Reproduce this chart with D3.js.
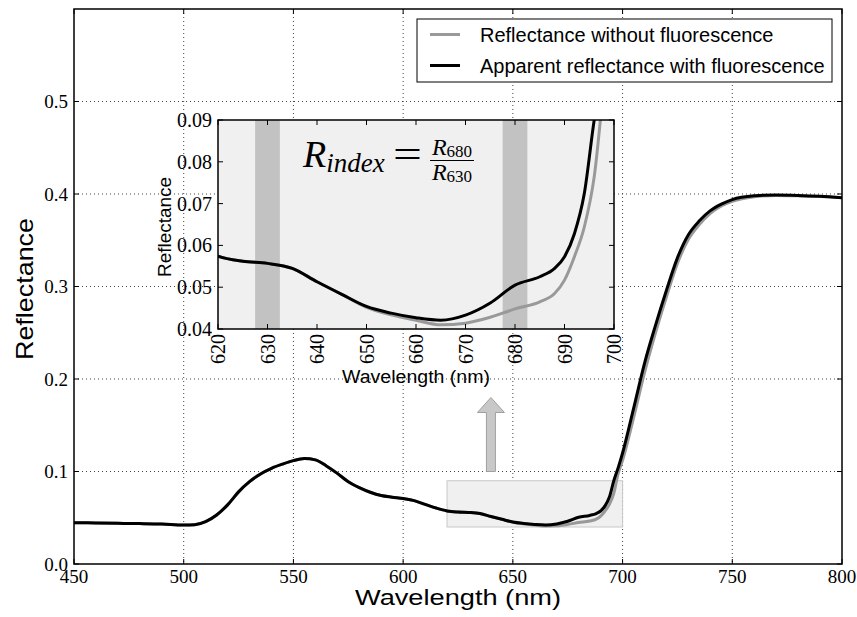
<!DOCTYPE html>
<html>
<head>
<meta charset="utf-8">
<script src="https://cdn.jsdelivr.net/npm/d3@7"></script>
<style>
  body { margin: 0; background: #fff; }
  .serif { font-family: "Liberation Serif", "DejaVu Serif", serif; }
  .sans { font-family: "Liberation Sans", Arial, sans-serif; }
</style>
</head>
<body>
<div class="chart"></div>
<script>
// data
const wavelength = [450, 460, 470, 480, 490, 500, 505, 510, 515, 520, 525, 530, 535, 540, 545, 550, 555, 560, 565, 570,
  575, 580, 585, 590, 595, 600, 605, 610, 615, 620, 625, 630, 635, 640, 645, 650, 655, 660, 665, 670,
  675, 680, 685, 688, 690, 692, 694, 696, 698, 700, 705, 710, 715, 720, 725, 730, 735, 740, 745, 750,
  760, 770, 780, 790, 800];
const withFluor = [0.0447, 0.0444, 0.0440, 0.0437, 0.0432, 0.0421, 0.0425, 0.0458, 0.0530, 0.0639, 0.0780, 0.0890, 0.0974, 0.1035, 0.1080, 0.1118, 0.1140, 0.1126, 0.1060, 0.0980,
  0.0890, 0.0826, 0.0776, 0.0740, 0.0722, 0.0707, 0.0685, 0.0645, 0.0605, 0.0574, 0.0562, 0.0557, 0.0545, 0.0513, 0.0483, 0.0454, 0.0438, 0.0427, 0.0421, 0.0433,
  0.0462, 0.0505, 0.0525, 0.0545, 0.0573, 0.0628, 0.0724, 0.0900, 0.1040, 0.1200, 0.1680, 0.2170, 0.2580, 0.2960, 0.3310, 0.3560, 0.3710, 0.3820, 0.3890, 0.3940,
  0.3980, 0.3990, 0.3985, 0.3975, 0.3960];
const withoutFluor = [0.0447, 0.0444, 0.0440, 0.0437, 0.0432, 0.0421, 0.0425, 0.0458, 0.0530, 0.0639, 0.0780, 0.0890, 0.0974, 0.1035, 0.1080, 0.1118, 0.1140, 0.1126, 0.1060, 0.0980,
  0.0890, 0.0826, 0.0776, 0.0740, 0.0722, 0.0707, 0.0685, 0.0645, 0.0605, 0.0574, 0.0562, 0.0557, 0.0545, 0.0513, 0.0483, 0.0452, 0.0434, 0.0421, 0.0410, 0.0414,
  0.0428, 0.0448, 0.0465, 0.0485, 0.0517, 0.0573, 0.0644, 0.0764, 0.0980, 0.1120, 0.1580, 0.2070, 0.2500, 0.2890, 0.3250, 0.3510, 0.3670, 0.3790, 0.3870, 0.3920,
  0.3970, 0.3985, 0.3980, 0.3972, 0.3960];

const mainXTicks = [450, 500, 550, 600, 650, 700, 750, 800];
const mainYTicks = [0.0, 0.1, 0.2, 0.3, 0.4, 0.5];
const insetXTicks = [620, 630, 640, 650, 660, 670, 680, 690, 700];
const insetYTicks = [0.04, 0.05, 0.06, 0.07, 0.08, 0.09];
const bands = [[627.5, 632.5], [677.5, 682.5]];
const zoomX = [620, 700];
const zoomY = [0.04, 0.09];
const arrowX = 640;
const arrowY = [0.10, 0.18];
const legendLabels = ["Reflectance without fluorescence", "Apparent reflectance with fluorescence"];

const width = 857, height = 617;
const mL = 74, mT = 9, mR = 842, mB = 564;

const svg = d3.select(".chart").append("svg")
    .attr("width", width)
    .attr("height", height);

const x = d3.scaleLinear().domain([450, 800]).range([mL, mR]);
const y = d3.scaleLinear().domain([0, 0.6]).range([mB, mT]);

const pts = wavelength.map((w, i) => ({w: w, a: withoutFluor[i], b: withFluor[i]}));

// grid
svg.append("g").selectAll("line").data(mainXTicks.slice(1, -1)).join("line")
    .attr("x1", d => x(d)).attr("x2", d => x(d))
    .attr("y1", mT).attr("y2", mB)
    .attr("stroke", "#444").attr("stroke-width", 1).attr("stroke-dasharray", "1,3");
svg.append("g").selectAll("line").data(mainYTicks.slice(1)).join("line")
    .attr("x1", mL).attr("x2", mR)
    .attr("y1", d => y(d)).attr("y2", d => y(d))
    .attr("stroke", "#444").attr("stroke-width", 1).attr("stroke-dasharray", "1,3");

// zoom box
svg.append("rect")
    .attr("x", x(zoomX[0])).attr("y", y(zoomY[1]))
    .attr("width", x(zoomX[1]) - x(zoomX[0]))
    .attr("height", y(zoomY[0]) - y(zoomY[1]))
    .attr("fill", "#f0f0f0").attr("stroke", "#c8c8c8").attr("stroke-width", 1);

// arrow
const ax = x(arrowX), ay0 = y(arrowY[0]), ay1 = y(arrowY[1]);
svg.append("path")
    .attr("d", `M${ax - 4.5},${ay0} L${ax - 4.5},${ay1 + 15} L${ax - 13.5},${ay1 + 15} L${ax},${ay1} L${ax + 13.5},${ay1 + 15} L${ax + 4.5},${ay1 + 15} L${ax + 4.5},${ay0} Z`)
    .attr("fill", "#c8c8c8").attr("stroke", "#a0a0a0").attr("stroke-width", 1);

// lines
svg.append("defs").append("clipPath").attr("id", "mainclip")
    .append("rect").attr("x", mL).attr("y", mT).attr("width", mR - mL).attr("height", mB - mT);

const lineA = d3.line().x(d => x(d.w)).y(d => y(d.a)).curve(d3.curveMonotoneX);
const lineB = d3.line().x(d => x(d.w)).y(d => y(d.b)).curve(d3.curveMonotoneX);
svg.append("path").datum(pts).attr("d", lineA)
    .attr("fill", "none").attr("stroke", "#999").attr("stroke-width", 3).attr("clip-path", "url(#mainclip)");
svg.append("path").datum(pts).attr("d", lineB)
    .attr("fill", "none").attr("stroke", "#000").attr("stroke-width", 3).attr("clip-path", "url(#mainclip)");

// frame and inward ticks
svg.append("rect").attr("x", mL).attr("y", mT).attr("width", mR - mL).attr("height", mB - mT)
    .attr("fill", "none").attr("stroke", "#000").attr("stroke-width", 1.5);
const tk = svg.append("g").attr("stroke", "#000").attr("stroke-width", 1);
mainXTicks.forEach(t => {
  tk.append("line").attr("x1", x(t)).attr("x2", x(t)).attr("y1", mB).attr("y2", mB - 5);
  tk.append("line").attr("x1", x(t)).attr("x2", x(t)).attr("y1", mT).attr("y2", mT + 5);
});
mainYTicks.forEach(t => {
  tk.append("line").attr("x1", mL).attr("x2", mL + 5).attr("y1", y(t)).attr("y2", y(t));
  tk.append("line").attr("x1", mR).attr("x2", mR - 5).attr("y1", y(t)).attr("y2", y(t));
});

svg.append("g").attr("class", "serif").selectAll("text").data(mainXTicks).join("text")
    .attr("x", d => x(d)).attr("y", 582.5)
    .attr("text-anchor", "middle").attr("font-size", 19)
    .text(d => d);
svg.append("g").attr("class", "serif").selectAll("text").data(mainYTicks).join("text")
    .attr("x", 68).attr("y", d => y(d)).attr("dy", "0.35em")
    .attr("text-anchor", "end").attr("font-size", 19)
    .text(d => d3.format(".1f")(d));

svg.append("text").attr("class", "sans")
    .attr("x", 355).attr("y", 605)
    .attr("font-size", 22).attr("textLength", 206).attr("lengthAdjust", "spacingAndGlyphs")
    .text("Wavelength (nm)");
svg.append("text").attr("class", "sans")
    .attr("transform", "translate(33,360) rotate(-90)")
    .attr("font-size", 24).attr("textLength", 142).attr("lengthAdjust", "spacingAndGlyphs")
    .text("Reflectance");

// legend
const lg = svg.append("g");
lg.append("rect").attr("x", 417).attr("y", 19).attr("width", 415).attr("height", 63)
    .attr("fill", "#fff").attr("stroke", "#000").attr("stroke-width", 1);
legendLabels.forEach((lab, i) => {
  const ly = 34.5 + i * 31;
  lg.append("line").attr("x1", 430).attr("x2", 460).attr("y1", ly).attr("y2", ly)
    .attr("stroke", i === 0 ? "#999" : "#000").attr("stroke-width", 3);
  lg.append("text").attr("class", "sans").attr("x", 480).attr("y", ly).attr("dy", "0.35em")
    .attr("font-size", 20).text(lab);
});

// inset
const iL = 218, iR = 614, iT = 120, iB = 329;
const ix = d3.scaleLinear().domain([620, 700]).range([iL, iR]);
const iy = d3.scaleLinear().domain([0.04, 0.09]).range([iB, iT]);
const inset = svg.append("g");
inset.append("rect").attr("x", iL).attr("y", iT).attr("width", iR - iL).attr("height", iB - iT)
    .attr("fill", "#f0f0f0");
inset.append("defs").append("clipPath").attr("id", "insetclip")
    .append("rect").attr("x", iL).attr("y", iT).attr("width", iR - iL).attr("height", iB - iT);
inset.selectAll("rect.band").data(bands).join("rect").attr("class", "band")
    .attr("x", d => ix(d[0])).attr("y", iT)
    .attr("width", d => ix(d[1]) - ix(d[0])).attr("height", iB - iT)
    .attr("fill", "#c2c2c2");

const iLineA = d3.line().x(d => ix(d.w)).y(d => iy(d.a)).curve(d3.curveMonotoneX);
const iLineB = d3.line().x(d => ix(d.w)).y(d => iy(d.b)).curve(d3.curveMonotoneX);
inset.append("path").datum(pts).attr("d", iLineA)
    .attr("fill", "none").attr("stroke", "#999").attr("stroke-width", 3).attr("clip-path", "url(#insetclip)");
inset.append("path").datum(pts).attr("d", iLineB)
    .attr("fill", "none").attr("stroke", "#000").attr("stroke-width", 3).attr("clip-path", "url(#insetclip)");

inset.append("rect").attr("x", iL).attr("y", iT).attr("width", iR - iL).attr("height", iB - iT)
    .attr("fill", "none").attr("stroke", "#000").attr("stroke-width", 1.5);
const itk = inset.append("g").attr("stroke", "#000").attr("stroke-width", 1);
insetXTicks.forEach(t => {
  itk.append("line").attr("x1", ix(t)).attr("x2", ix(t)).attr("y1", iB).attr("y2", iB - 5);
  itk.append("line").attr("x1", ix(t)).attr("x2", ix(t)).attr("y1", iT).attr("y2", iT + 5);
});
insetYTicks.forEach(t => {
  itk.append("line").attr("x1", iL).attr("x2", iL + 5).attr("y1", iy(t)).attr("y2", iy(t));
  itk.append("line").attr("x1", iR).attr("x2", iR - 5).attr("y1", iy(t)).attr("y2", iy(t));
});

inset.append("g").attr("class", "serif").selectAll("text").data(insetXTicks).join("text")
    .attr("transform", d => `translate(${ix(d)},334) rotate(-90)`)
    .attr("dy", "0.35em").attr("text-anchor", "end").attr("font-size", 20)
    .text(d => d);
inset.append("g").attr("class", "serif").selectAll("text").data(insetYTicks).join("text")
    .attr("x", iL - 6).attr("y", d => iy(d)).attr("dy", "0.35em")
    .attr("text-anchor", "end").attr("font-size", 20)
    .text(d => d3.format(".2f")(d));

inset.append("text").attr("class", "sans")
    .attr("transform", "translate(171,277) rotate(-90)")
    .attr("font-size", 18).attr("textLength", 100).attr("lengthAdjust", "spacingAndGlyphs")
    .text("Reflectance");
inset.append("text").attr("class", "sans")
    .attr("x", 342).attr("y", 383)
    .attr("font-size", 18).attr("textLength", 148).attr("lengthAdjust", "spacingAndGlyphs")
    .text("Wavelength (nm)");

// formula
const f = inset.append("g").attr("class", "serif");
const ri = f.append("text").attr("x", 303).attr("y", 167).attr("font-size", 38).attr("font-style", "italic");
ri.append("tspan").text("R");
ri.append("tspan").attr("font-size", 27).attr("dy", 5).text("index");
f.append("text").attr("transform", "translate(393,167) scale(1.35,1)").attr("font-size", 38).text("=");
const num = f.append("text").attr("x", 452).attr("y", 155).attr("text-anchor", "middle");
num.append("tspan").attr("font-size", 24).attr("font-style", "italic").text("R");
num.append("tspan").attr("font-size", 17).attr("dy", 2).text("680");
const den = f.append("text").attr("x", 452).attr("y", 180).attr("text-anchor", "middle");
den.append("tspan").attr("font-size", 24).attr("font-style", "italic").text("R");
den.append("tspan").attr("font-size", 17).attr("dy", 2).text("630");
f.append("line").attr("x1", 430).attr("x2", 474).attr("y1", 160.5).attr("y2", 160.5)
    .attr("stroke", "#000").attr("stroke-width", 1.2);
</script>
</body>
</html>
